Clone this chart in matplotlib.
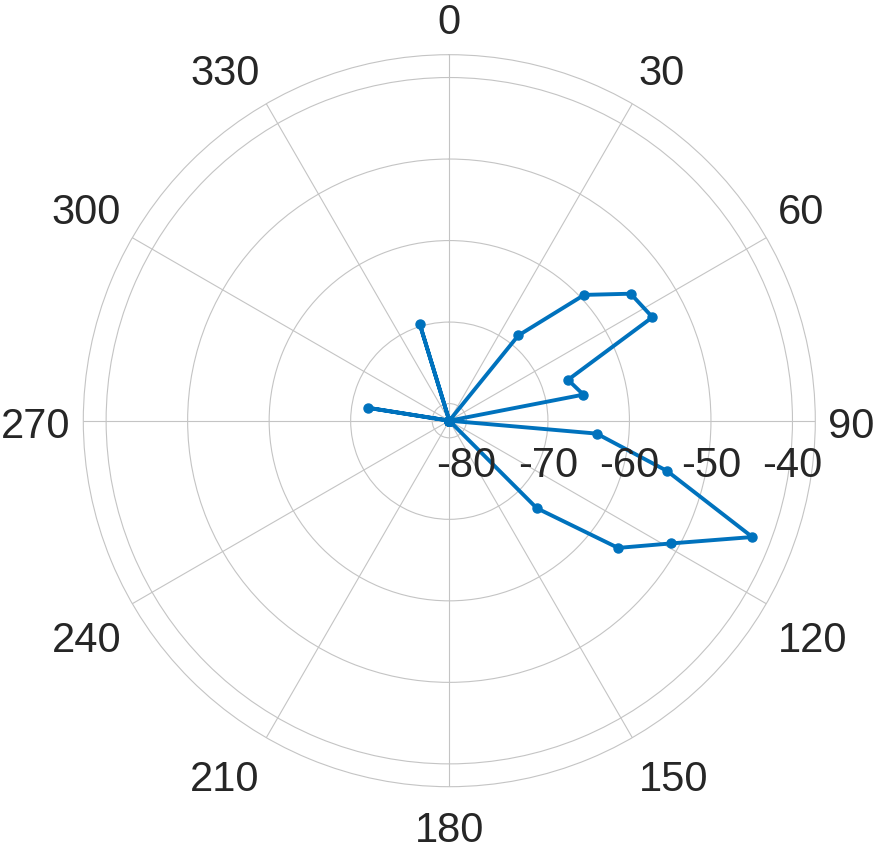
import numpy as np
import matplotlib
matplotlib.use("Agg")
import matplotlib.pyplot as plt

# angle of each sample (degrees, clockwise from north)
angles_deg = [7, 15, 23, 31, 39, 47, 55, 63, 71, 79, 87, 95, 103, 111, 119,
              127, 135, 143, 151, 159, 167, 175, 183, 191, 199, 207, 215, 223,
              231, 239, 247, 255, 263, 271, 279, 287, 295, 303, 311, 319, 327,
              335, 343, 351, 359]
# received level (dB), samples sitting on the inner limit sit at -82.1
level_db = [-82.1, -82.1, -82.1, -82.1, -68.65, -59.47, -54.94, -54.13, -66.70,
            -65.34, -82.1, -63.96, -54.68, -42.28, -51.04, -56.17, -66.92,
            -82.1, -82.1, -82.1, -82.1, -82.1, -82.1, -82.1, -82.1, -82.1,
            -82.1, -82.1, -82.1, -82.1, -82.1, -82.1, -82.1, -82.1, -72.02,
            -82.1, -82.1, -82.1, -82.1, -82.1, -82.1, -82.1, -69.75, -82.1,
            -82.1]

r_ticks = [-80, -70, -60, -50, -40]
r_limits = (-82.1, -37.2)
theta_ticks = list(range(0, 360, 30))

grid_col = "#c4c4c4"
text_col = "#262626"
line_col = "#0072BD"
fsize = 30
px = 0.72  # points per pixel at dpi 100

fig = plt.figure(figsize=(8.74, 8.45), dpi=100)
ax = fig.add_axes([83.3 / 874, (845 - 787.7) / 845, 732 / 874, 732 / 845],
                  projection="polar")
ax.set_theta_zero_location("N")
ax.set_theta_direction(-1)
ax.set_ylim(*r_limits)

ax.set_xticks(np.deg2rad(theta_ticks))
ax.set_xticklabels([])
ax.set_yticks(r_ticks)
ax.set_yticklabels([])
ax.grid(True, color=grid_col, linewidth=0.8)
ax.spines["polar"].set_color(grid_col)
ax.spines["polar"].set_linewidth(0.8)
ax.tick_params(length=0)

ax.plot(np.deg2rad(angles_deg), level_db, "-o", color=line_col,
        linewidth=2.8, markersize=6.5, zorder=5, clip_on=False)

# angle labels around the outside
for t in theta_ticks:
    s, c = np.sin(np.deg2rad(t)), np.cos(np.deg2rad(t))
    dx, dy = 13 * s, 13 * c
    if s > 0.01:
        ha = "left"
    elif s < -0.01:
        ha = "right"
    else:
        ha = "center"
    if c > 0.01:
        dy += 8.5
    elif c < -0.01:
        dy -= 41
    else:
        dy -= 16.5
    ax.annotate(str(t), xy=(0.5 + 0.5 * s, 0.5 + 0.5 * c),
                xycoords="axes fraction", xytext=(dx * px, dy * px),
                textcoords="offset points", ha=ha, va="baseline",
                fontsize=fsize, color=text_col, family="Liberation Sans",
                annotation_clip=False)

# radius labels under the 90 spoke
for rv in r_ticks:
    ax.annotate(str(rv), xy=(np.pi / 2, rv), xycoords="data",
                xytext=(0, -55 * px), textcoords="offset points",
                ha="center", va="baseline", fontsize=fsize, color=text_col,
                family="Liberation Sans", zorder=6)

plt.savefig("out.png", dpi=100)
